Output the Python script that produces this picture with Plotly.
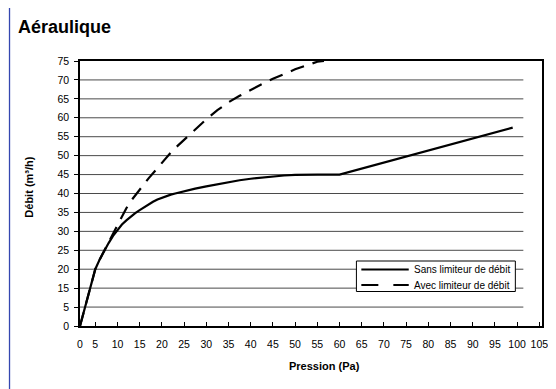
import numpy as np
import plotly.graph_objects as go

# axis labels as printed (the chart's scales are not regular: "10" is missing on y,
# and the first x step is shorter), with the position each label sits at
x_tick_labels = [0, 5, 10, 15, 20, 25, 30, 35, 40, 45, 50, 55, 60, 65, 70, 75, 80, 85, 90, 95, 100, 105]
x_tick_pos = [1.56, 5, 10, 15, 20, 25, 30, 35, 40, 45, 50, 55, 60, 65, 70, 75, 80, 85, 90, 95, 100, 105]
y_tick_labels = [0, 5, 15, 20, 25, 30, 35, 40, 45, 50, 55, 60, 65, 70, 75]
y_tick_pos = [0, 5, 10, 15, 20, 25, 30, 35, 40, 45, 50, 55, 60, 65, 70]

# Sans limiteur de débit
pression_sans = [0, 5, 6, 7, 8, 9, 10, 11, 12, 13, 14, 15, 16, 17, 18, 19, 20, 21, 22, 23, 24, 25,
                 27.5, 30, 32.5, 35, 37.5, 40, 42.5, 45, 47.5, 50, 52.5, 55, 60, 99]
debit_sans = [0, 20, 22.6, 24.9, 26.9, 28.8, 30.4, 31.8, 32.9, 33.9, 34.8, 35.6, 36.4, 37.1, 37.8, 38.4,
              38.9, 39.3, 39.7, 40.0, 40.3, 40.6, 41.3, 41.9, 42.5, 43.0, 43.5, 43.9, 44.2, 44.5, 44.75,
              44.9, 45, 45, 45, 57.4]

# Avec limiteur de débit
pression_avec = [0, 5, 6, 7, 8, 9, 10, 11, 12, 13, 14, 15, 16, 17, 18, 19, 20, 21, 22, 23, 24, 25,
                 27.5, 30, 32.5, 35, 37.5, 40, 42.5, 45, 47.5, 50, 52.5, 55, 56.5]
debit_avec = [0, 20, 22.6, 24.9, 27.0, 29.4, 31.8, 34.0, 36.1, 38.0, 39.6, 41.0, 42.5, 44.0, 45.4, 46.8,
              48.2, 49.5, 50.8, 52.0, 53.1, 54.2, 57.0, 59.6, 62.0, 64.1, 65.8, 67.4, 68.9, 70.3, 71.6,
              72.8, 73.8, 74.8, 75.3]

series_names = ["Sans limiteur de débit", "Avec limiteur de débit"]

FONT = "Liberation Sans, Arial, Helvetica, sans-serif"
OFF = 8                      # the page body has an 8px margin
W, H = 556 - OFF, 389 - OFF
L, R, T, B = 80 - OFF, 8, 61 - OFF, 63


def xp(v):
    return np.interp(v, x_tick_labels, x_tick_pos)


def yp(v):
    return np.interp(v, y_tick_labels, y_tick_pos)


# screen pixel -> paper helpers for the decoration
def px(x):
    return (x - OFF - L) / (W - L - R)


def py(y):
    return (H - B - (y - OFF)) / (H - T - B)


fig = go.Figure()
fig.add_trace(go.Scatter(x=xp(pression_sans), y=yp(debit_sans), mode="lines", name=series_names[0],
                         line=dict(color="black", width=2.2)))
fig.add_trace(go.Scatter(x=xp(pression_avec), y=yp(debit_avec), mode="lines", name=series_names[1],
                         line=dict(color="black", width=2.2, dash="14px,9px")))

# gridlines stop a little before the right frame, like the original
grid_end = 101.4
shapes = []
for p in y_tick_pos[1:-1]:
    shapes.append(dict(type="line", xref="x", yref="y", x0=x_tick_pos[0], x1=grid_end, y0=p, y1=p,
                       line=dict(color="#4a4a4a", width=1), layer="below"))
# blue outer frame
shapes.append(dict(type="rect", xref="paper", yref="paper", x0=px(8.6), x1=px(600), y0=py(7), y1=py(420),
                   line=dict(color="#3447b0", width=1.3), layer="below"))

# legend box drawn by hand (Excel-style long line samples)
leg_y = [269.5, 285]
shapes.append(dict(type="rect", xref="paper", yref="paper", x0=px(360), x1=px(521), y0=py(261), y1=py(291.5),
                   fillcolor="white", line=dict(color="black", width=1), layer="above"))
shapes.append(dict(type="line", xref="paper", yref="paper", x0=px(365), x1=px(413), y0=py(leg_y[0]),
                   y1=py(leg_y[0]), line=dict(color="black", width=2.2), layer="above"))
shapes.append(dict(type="line", xref="paper", yref="paper", x0=px(365), x1=px(413), y0=py(leg_y[1]),
                   y1=py(leg_y[1]), line=dict(color="black", width=2.2, dash="17px,15px"), layer="above"))

annotations = [
    dict(text="<b>Aéraulique</b>", xref="paper", yref="paper", x=px(15), y=py(27), xanchor="left",
         yanchor="middle", showarrow=False, font=dict(family=FONT, size=18, color="black")),
    dict(text="<b>Pression (Pa)</b>", xref="paper", yref="paper", x=px(328), y=py(366), xanchor="center",
         yanchor="middle", showarrow=False, font=dict(family=FONT, size=11, color="black")),
    dict(text="<b>Débit (m³/h)</b>", xref="paper", yref="paper", x=px(28), y=py(187), xanchor="center",
         yanchor="middle", textangle=-90, showarrow=False, font=dict(family=FONT, size=11, color="black")),
]
for name, ly in zip(series_names, leg_y):
    annotations.append(dict(text=name, xref="paper", yref="paper", x=px(416), y=py(ly),
                            xanchor="left", yanchor="middle", showarrow=False,
                            font=dict(family=FONT, size=10, color="black")))

fig.update_layout(
    width=W, height=H, autosize=False,
    margin=dict(l=L, r=R, t=T, b=B, pad=0),
    paper_bgcolor="white", plot_bgcolor="white",
    font=dict(family=FONT, size=10, color="black"),
    showlegend=False,
    shapes=shapes, annotations=annotations,
)
fig.update_xaxes(range=[x_tick_pos[0], 105.6], tickmode="array", tickvals=x_tick_pos,
                 ticktext=[str(v) for v in x_tick_labels], ticks="inside", ticklen=4, tickcolor="black",
                 ticklabelstandoff=7,
                 showgrid=False, zeroline=False, showline=True, mirror=True, linecolor="black", linewidth=2,
                 tickfont=dict(size=10.5, color="black"))
fig.update_yaxes(range=[0, 70], tickmode="array", tickvals=y_tick_pos,
                 ticktext=[str(v) for v in y_tick_labels], ticks="outside", ticklen=4, tickcolor="black",
                 ticklabelstandoff=3,
                 showgrid=False, zeroline=False, showline=True, mirror=True, linecolor="black", linewidth=1.5,
                 tickfont=dict(size=10.5, color="black"))

fig.write_html("out.html")
